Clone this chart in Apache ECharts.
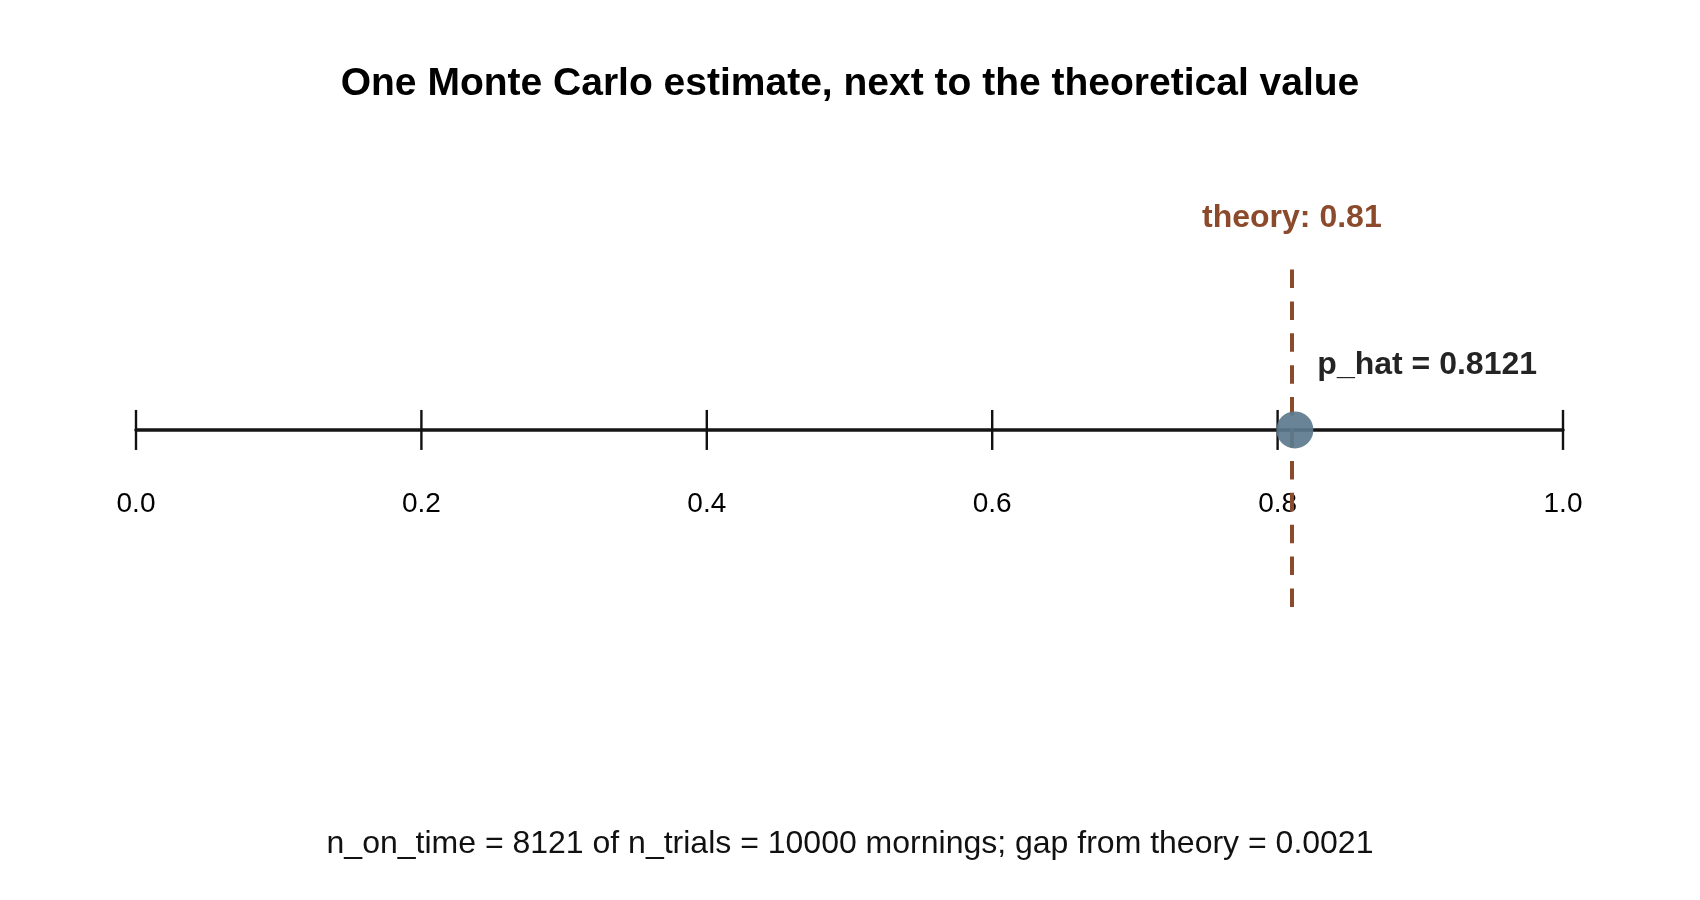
<!DOCTYPE html>
<html>
<head>
<meta charset="utf-8">
<title>One Monte Carlo estimate</title>
<script src="https://cdn.jsdelivr.net/npm/echarts@6/dist/echarts.min.js"></script>
<style>
    html, body { margin: 0; padding: 0; background: #ffffff; }
    #chart { width: 1700px; height: 900px; }
</style>
</head>
<body>
<div id="chart"></div>
<script>
// Data
var tickValues = [0.0, 0.2, 0.4, 0.6, 0.8, 1.0];
var tickLabels = ['0.0', '0.2', '0.4', '0.6', '0.8', '1.0'];
var pHat = 0.8121;
var theory = 0.81;
var nOnTime = 8121;
var nTrials = 10000;
var gapFromTheory = 0.0021;

var font = '"Liberation Sans", Arial, sans-serif';

function tickLabel(value) {
    var i = tickValues.indexOf(Math.round(value * 10) / 10);
    return i >= 0 ? tickLabels[i] : '';
}

var chart = echarts.init(document.getElementById('chart'));
var option = {
    backgroundColor: '#ffffff',
    animation: false,

    // Title and caption
    title: [{
        text: 'One Monte Carlo estimate, next to the theoretical value',
        left: 'center',
        top: 60,
        textStyle: { fontFamily: font, fontSize: 39, fontWeight: 'bold', color: '#000000' }
    }, {
        text: 'n_on_time = ' + nOnTime + ' of n_trials = ' + nTrials +
            ' mornings; gap from theory = ' + gapFromTheory.toFixed(4),
        left: 'center',
        top: 823,
        textStyle: { fontFamily: font, fontSize: 32, fontWeight: 'normal', color: '#111111' }
    }],

    grid: { left: 136, right: 137, top: 269, bottom: 293 },

    xAxis: {
        type: 'value',
        min: 0,
        max: 1,
        interval: 0.2,
        axisLine: { show: true, onZero: true, lineStyle: { color: '#151515', width: 3.5 } },
        axisTick: { show: false },
        axisLabel: { show: false },
        splitLine: { show: false }
    },

    yAxis: {
        type: 'value',
        min: -1.1,
        max: 1,
        show: false,
        splitLine: { show: false }
    },

    series: [{
        // tick marks crossing the axis line, with their labels
        name: 'ticks',
        type: 'scatter',
        silent: true,
        data: tickValues.map(function (v) { return [v, 0]; }),
        symbol: 'rect',
        symbolSize: [2.4, 40],
        itemStyle: { color: '#111111', opacity: 1 },
        label: {
            show: true,
            position: 'bottom',
            distance: 40,
            formatter: function (p) { return tickLabel(p.value[0]); },
            fontFamily: font,
            fontSize: 28,
            color: '#000000',
            opacity: 1
        },
        z: 1
    }, {
        // theoretical value
        name: 'theory',
        type: 'line',
        data: [],
        markLine: {
            silent: true,
            symbol: ['none', 'none'],
            lineStyle: { color: '#8b4a2b', width: 4, type: [18.5, 13.4] },
            label: {
                show: true,
                position: 'end',
                distance: 35,
                formatter: 'theory: ' + theory.toFixed(2),
                fontFamily: font,
                fontSize: 32,
                fontWeight: 'bold',
                color: '#8b4a2b'
            },
            data: [{ xAxis: theory }]
        },
        z: 2
    }, {
        // Monte Carlo estimate
        name: 'p_hat',
        type: 'scatter',
        data: [[pHat, 0]],
        symbolSize: 37,
        itemStyle: { color: '#5b7a8d', opacity: 0.92 },
        label: {
            show: true,
            position: 'right',
            distance: 4,
            offset: [0, -65],
            formatter: 'p_hat = ' + pHat.toFixed(4),
            fontFamily: font,
            fontSize: 32,
            fontWeight: 'bold',
            color: '#111111'
        },
        z: 5
    }]
};

chart.setOption(option);
</script>
</body>
</html>
